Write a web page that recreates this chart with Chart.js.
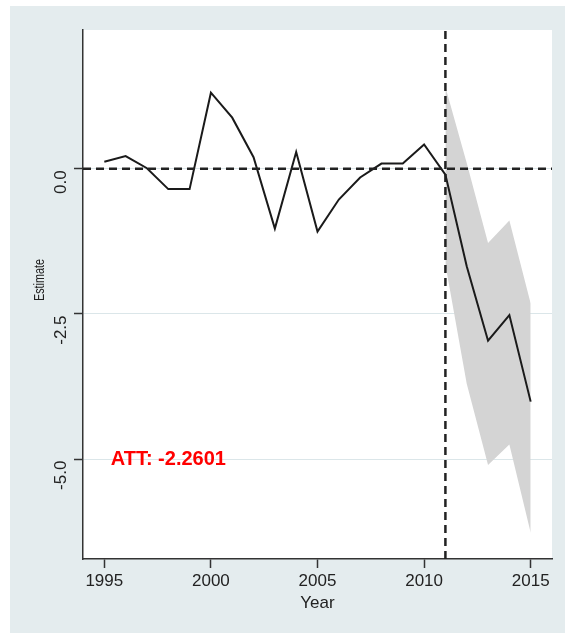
<!DOCTYPE html>
<html>
<head>
<meta charset="utf-8">
<script src="https://cdn.jsdelivr.net/npm/chart.js@4/dist/chart.umd.min.js"></script>
<style>
  html, body { margin: 0; padding: 0; background: #fff; }
  canvas { display: block; }
</style>
</head>
<body>
<canvas id="chart" width="565" height="633"></canvas>
<script>
// data
const years = [1995, 1996, 1997, 1998, 1999, 2000, 2001, 2002, 2003, 2004, 2005,
               2006, 2007, 2008, 2009, 2010, 2011, 2012, 2013, 2014, 2015];
const estimate = [0.12, 0.22, 0.01, -0.35, -0.35, 1.31, 0.88, 0.20, -1.03, 0.29, -1.08,
                  -0.53, -0.15, 0.09, 0.09, 0.42, -0.10, -1.68, -2.96, -2.52, -4.01];
const bandYears = [2011, 2012, 2013, 2014, 2015];
const bandUpper = [1.41, 0.10, -1.28, -0.89, -2.32];
const bandLower = [-1.65, -3.70, -5.10, -4.75, -6.27];
const xTicks = [1995, 2000, 2005, 2010, 2015];
const yTicks = [0, -2.5, -5];
const treatYear = 2011;
const xMin = 1994, xMax = 2016;
const yMin = -6.72, yMax = 2.39;
const attText = 'ATT: -2.2601';

const FONT = '"Liberation Sans", Arial, Helvetica, sans-serif';

// background, white plot region and all the text
const frame = {
  id: 'frame',
  beforeDraw(chart) {
    const { ctx, chartArea: a } = chart;
    ctx.save();
    ctx.fillStyle = '#e4ecee';
    ctx.fillRect(10, 6, 555, 627);
    ctx.fillStyle = '#fff';
    ctx.fillRect(a.left, a.top, a.right - a.left, a.bottom - a.top);
    ctx.restore();
  },
  afterDraw(chart) {
    const { ctx, scales: { x, y } } = chart;
    ctx.save();
    ctx.fillStyle = '#222';
    ctx.font = '17px ' + FONT;
    ctx.textAlign = 'center';
    ctx.textBaseline = 'middle';
    xTicks.forEach(t => ctx.fillText(String(t), x.getPixelForValue(t), 581));
    ctx.fillText('Year', (x.left + x.right) / 2, 603);

    // y tick labels, turned, starting at the tick and running down
    yTicks.forEach(t => {
      ctx.save();
      ctx.translate(61, y.getPixelForValue(t) + 1.5);
      ctx.rotate(-Math.PI / 2);
      ctx.textAlign = 'right';
      ctx.fillText(t.toFixed(1), 0, 0);
      ctx.restore();
    });

    // y title (narrow in the original)
    ctx.save();
    ctx.font = '14px ' + FONT;
    ctx.translate(40, 280);
    ctx.rotate(-Math.PI / 2);
    const w = ctx.measureText('Estimate').width;
    ctx.scale(42 / w, 1);
    ctx.fillText('Estimate', 0, 0);
    ctx.restore();

    // ATT note
    ctx.fillStyle = '#ff0000';
    ctx.font = 'bold 20px ' + FONT;
    ctx.textAlign = 'left';
    ctx.fillText(attText, x.getPixelForValue(1995.3), y.getPixelForValue(-5) + 0.5);
    ctx.restore();
  }
};

const dash = [8, 5];

new Chart(document.getElementById('chart'), {
  type: 'line',
  data: {
    datasets: [
      {
        data: [{ x: treatYear, y: yMin }, { x: treatYear, y: yMax }],
        borderColor: '#222', borderWidth: 2.5, borderDash: dash,
        pointRadius: 0, order: 0
      },
      {
        data: [{ x: xMin, y: 0 }, { x: xMax, y: 0 }],
        borderColor: '#222', borderWidth: 2.5, borderDash: dash,
        pointRadius: 0, order: 1
      },
      {
        data: years.map((yr, i) => ({ x: yr, y: estimate[i] })),
        borderColor: '#1a1a1a', borderWidth: 2,
        pointRadius: 0, tension: 0, order: 2
      },
      {
        data: bandYears.map((yr, i) => ({ x: yr, y: bandUpper[i] })),
        borderWidth: 0, pointRadius: 0,
        backgroundColor: '#d4d4d4', fill: '+1', order: 5
      },
      {
        data: bandYears.map((yr, i) => ({ x: yr, y: bandLower[i] })),
        borderWidth: 0, pointRadius: 0, fill: false, order: 5
      }
    ]
  },
  options: {
    responsive: false,
    animation: false,
    devicePixelRatio: 1,
    layout: { padding: { top: 30, right: 13, left: 0, bottom: 0 } },
    plugins: { legend: { display: false }, tooltip: { enabled: false } },
    scales: {
      x: {
        type: 'linear', min: xMin, max: xMax,
        afterBuildTicks: s => { s.ticks = xTicks.map(v => ({ value: v })); },
        afterFit: s => { s.height = 74; },
        ticks: { display: false },
        grid: { drawOnChartArea: false, drawTicks: true, tickLength: 9, tickColor: '#333', tickWidth: 1.5 },
        border: { color: '#333', width: 1.5 }
      },
      y: {
        type: 'linear', min: yMin, max: yMax,
        afterBuildTicks: s => { s.ticks = yTicks.map(v => ({ value: v })); },
        afterFit: s => { s.width = 83; },
        ticks: { display: false },
        grid: { color: '#dbe6e9', lineWidth: 1, drawTicks: true, tickLength: 9, tickColor: '#333', tickWidth: 1.5 },
        border: { color: '#333', width: 1.5 }
      }
    }
  },
  plugins: [frame]
});
</script>
</body>
</html>
